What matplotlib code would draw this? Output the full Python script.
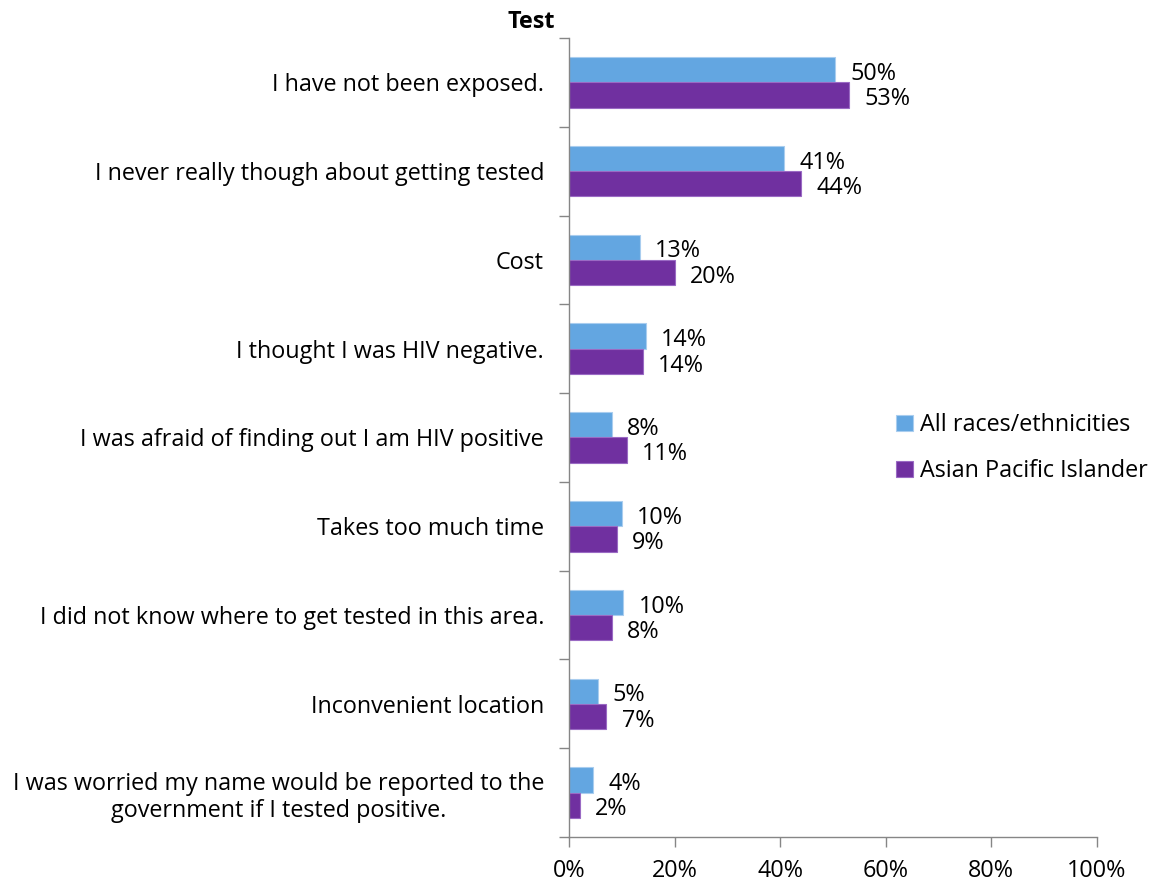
import matplotlib.pyplot as plt
import numpy as np

# --- DATA ---
categories = [
    "I have not been exposed.",
    "I never really though about getting tested",
    "Cost",
    "I thought I was HIV negative.",
    "I was afraid of finding out I am HIV positive",
    "Takes too much time",
    "I did not know where to get tested in this area.",
    "Inconvenient location",
    "I was worried my name would be reported to the\ngovernment if I tested positive.",
]
all_races = [50.4, 40.7, 13.4, 14.5, 8.1, 10.0, 10.3, 5.4, 4.5]
asian_pi = [53.0, 44.0, 20.0, 14.0, 11.0, 9.1, 8.1, 7.1, 2.1]
all_labels = ["50%", "41%", "13%", "14%", "8%", "10%", "10%", "5%", "4%"]
api_labels = ["53%", "44%", "20%", "14%", "11%", "9%", "8%", "7%", "2%"]
series_names = ["All races/ethnicities", "Asian Pacific Islander"]
x_ticks = [0, 20, 40, 60, 80, 100]

BLUE = "#63A6E1"
PURPLE = "#7030A0"
GRAY = "#868686"
FS = 16.8


def main():
    plt.rcParams['font.family'] = ['Open Sans', 'DejaVu Sans']
    fig = plt.figure(figsize=(11.53, 8.83), dpi=100)
    ax = fig.add_axes([0.4935, 0.0521, 0.9514 - 0.4935, 0.957 - 0.0521])

    n = len(categories)
    y = np.arange(n)
    h = 0.285
    b1 = ax.barh(y - h / 2, all_races, height=h, color=BLUE, edgecolor="#A9CDEF",
                 linewidth=0.8, label=series_names[0])
    b2 = ax.barh(y + h / 2, asian_pi, height=h, color=PURPLE, edgecolor="#9A6AC4",
                 linewidth=0.8, label=series_names[1])

    for rect, lab in zip(b1, all_labels):
        ax.annotate(lab, (rect.get_width(), rect.get_y() + rect.get_height() / 2),
                    xytext=(11, -3), textcoords="offset points",
                    ha="left", va="center", fontsize=FS)
    for rect, lab in zip(b2, api_labels):
        ax.annotate(lab, (rect.get_width(), rect.get_y() + rect.get_height() / 2),
                    xytext=(11, -3), textcoords="offset points",
                    ha="left", va="center", fontsize=FS)

    ax.set_ylim(n - 0.5, -0.5)
    ax.set_xlim(0, 100)

    ax.set_yticks(y)
    ax.set_yticklabels(categories, fontsize=FS, multialignment="center")
    ax.set_yticks(np.arange(n + 1) - 0.5, minor=True)
    ax.tick_params(axis="y", which="major", length=0, pad=18)
    ax.tick_params(axis="y", which="minor", length=7, color=GRAY, width=1)

    ax.set_xticks(x_ticks)
    ax.set_xticklabels([f"{v}%" for v in x_ticks], fontsize=FS)
    ax.tick_params(axis="x", length=7, color=GRAY, width=1, pad=9)

    for side in ["top", "right"]:
        ax.spines[side].set_visible(False)
    for side in ["left", "bottom"]:
        ax.spines[side].set_color(GRAY)
        ax.spines[side].set_linewidth(1)

    fig.text(0.461, 0.975, "Test", fontsize=FS, fontweight="bold", ha="center", va="center")

    ax.legend(loc="upper left", bbox_to_anchor=(0.58, 0.557), frameon=False,
              fontsize=FS, handlelength=0.7, handleheight=0.7, handletextpad=0.3,
              labelspacing=0.95)

    fig.savefig("out.png", dpi=100)


if __name__ == "__main__":
    main()
